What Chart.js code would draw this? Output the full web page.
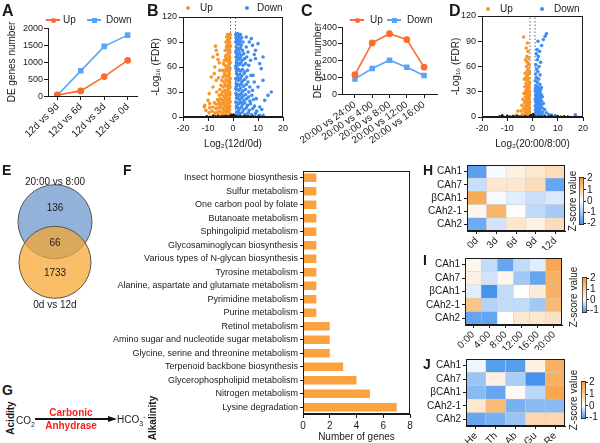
<!DOCTYPE html>
<html>
<head>
<meta charset="utf-8">
<title>DE genes and carbonic anhydrase</title>
<script src="https://cdn.jsdelivr.net/npm/chart.js@4.4.1/dist/chart.umd.min.js"></script>
<style>
  html, body { margin: 0; padding: 0; background: #fff; }
  body { position: relative; width: 600px; height: 443px; overflow: hidden;
         font-family: 'Liberation Sans', Arial, sans-serif; color: #1a1a1a; }
  canvas, .t { position: absolute; }
  .t { white-space: nowrap; }
  .t sub, .t sup { font-size: 70%; line-height: 0; }
  .tick { z-index: 5; }
</style>
</head>
<body>
<script>
// ---------- data ----------
const aLabels = ['12d vs 9d', '12d vs 6d', '12d vs 3d', '12d vs 0d'];
const aUp = [30, 150, 570, 1050];
const aDown = [20, 740, 1460, 1790];
const aTicks = [0, 500, 1000, 1500, 2000];

const cLabels = ['20:00 vs 24:00', '20:00 vs 4:00', '20:00 vs 8:00', '20:00 vs 12:00', '20:00 vs 16:00'];
const cUp = [115, 305, 360, 325, 160];
const cDown = [90, 152, 202, 160, 110];
const cTicks = [0, 100, 200, 300, 400];

// volcano plots: [log2 fold change, -log10 FDR]
const volcanoCut = [-1, 1];
const bUp = [
  [-1.1,99],[-1.4,98],[-1.8,97],[-2.2,99],[-1.2,95],[-1.6,94],[-2.0,92],[-2.5,96],[-1.3,90],[-1.9,88],
  [-2.3,86],[-2.8,90],[-1.1,85],[-1.5,83],[-2.1,81],[-2.6,84],[-3.1,80],[-1.2,78],[-1.7,76],[-2.4,75],
  [-3.0,73],[-1.3,71],[-1.8,69],[-2.2,67],[-2.7,70],[-3.4,68],[-1.1,65],[-1.6,63],[-2.0,61],[-2.5,60],
  [-3.2,62],[-3.8,64],[-1.2,58],[-1.7,56],[-2.3,55],[-2.9,57],[-3.5,54],[-4.2,56],[-1.4,52],[-2.0,50],
  [-2.6,49],[-3.3,51],[-4.0,48],[-1.1,46],[-1.6,44],[-2.2,43],[-2.8,45],[-3.6,42],[-4.5,44],[-1.3,40],
  [-1.9,38],[-2.5,37],[-3.1,39],[-3.9,36],[-4.8,38],[-1.5,34],[-2.1,33],[-2.7,31],[-3.4,32],[-4.3,30],
  [-5.2,33],[-1.2,28],[-1.8,27],[-2.4,26],[-3.0,28],[-3.7,25],[-4.6,27],[-5.5,26],[-1.4,23],[-2.0,22],
  [-2.7,21],[-3.3,23],[-4.1,20],[-5.0,22],[-6.2,21],[-1.1,18],[-1.7,17],[-2.3,16],[-2.9,18],[-3.6,15],
  [-4.4,17],[-5.3,16],[-6.5,15],[-7.4,17],[-1.3,13],[-1.9,12],[-2.5,11],[-3.2,13],[-4.0,10],[-4.9,12],
  [-5.8,11],[-6.8,10],[-8.0,12],[-9.3,11],[-1.5,8],[-2.1,7],[-2.8,6],[-3.5,8],[-4.3,5],[-5.2,7],
  [-6.1,6],[-7.2,5],[-8.4,7],[-9.6,5],[-10.8,8],[-11.5,12],[-1.2,4],[-1.8,3],[-2.6,2],[-3.4,3],
  [-4.7,2],[-6.0,3],[-7.5,2],[-7.0,85],[-6.7,80],[-8.0,72],[-6.0,69],[-7.3,60],[-5.3,56],[-8.7,48],
  [-6.7,44],[-8.0,36],[-10.0,20],[-11.3,14],[-9.3,16],[-6.2,75],[-5.5,65],[-7.5,52],[-9.5,28],[-6.5,30],
  [-5.8,47],[-1.5,99],[-1.9,93],[-1.4,87],[-1.9,79],[-1.5,73],[-1.4,67],[-1.9,59],[-1.5,48],[-1.8,42],
  [-1.2,36],[-1.8,30],[-1.5,20],[-2.0,14],[-1.4,10],[-2.2,9],[-2.9,24],[-3.6,19],[-4.9,14],[-5.7,19]
];
const bDown = [
  [1.1,99],[1.5,98],[1.9,100],[2.4,97],[3.0,99],[1.2,95],[1.7,93],[2.2,94],[2.8,92],[3.5,95],
  [1.1,90],[1.6,88],[2.1,87],[2.7,89],[3.3,86],[4.0,90],[1.3,84],[1.8,82],[2.4,81],[3.0,83],
  [3.8,80],[1.1,78],[1.5,76],[2.0,75],[2.6,77],[3.3,74],[4.3,76],[1.2,72],[1.7,70],[2.3,69],
  [2.9,71],[3.7,68],[4.6,70],[1.4,66],[1.9,64],[2.5,63],[3.1,65],[4.0,62],[5.0,64],[1.1,61],
  [1.6,60],[5.3,96],[7.3,94],[10.0,88],[9.0,80],[5.3,84],[6.5,90],[7.8,86],[6.0,78],[8.5,75],
  [5.5,72],[7.0,68],[10.7,64],[11.3,58],[6.3,62],[9.0,70],[12.0,72],[1.2,58],[1.7,56],[2.3,57],
  [3.0,55],[3.8,57],[4.7,54],[5.8,56],[1.4,52],[2.0,50],[2.7,51],[3.5,49],[4.4,52],[5.5,48],
  [7.2,50],[1.1,46],[1.6,45],[2.2,44],[2.9,46],[3.7,43],[4.7,45],[6.0,42],[8.0,50],[12.0,44],
  [1.3,40],[1.9,39],[2.6,38],[3.3,40],[4.2,37],[5.3,39],[6.7,36],[10.0,36],[1.1,34],[1.6,33],
  [2.3,32],[3.0,34],[3.9,31],[5.0,33],[6.3,30],[7.8,32],[8.5,42],[1.2,28],[1.8,27],[2.5,26],
  [3.2,28],[4.0,25],[5.0,27],[6.2,24],[7.5,26],[15.3,30],[14.0,26],[1.4,23],[2.0,22],[2.7,21],
  [3.5,23],[4.4,20],[5.5,22],[6.8,19],[8.2,21],[9.3,22],[12.7,20],[1.1,18],[1.7,17],[2.3,16],
  [3.0,18],[3.8,15],[4.7,17],[5.8,14],[7.0,16],[8.6,13],[10.7,12],[1.3,12],[1.9,11],[2.6,10],
  [3.4,12],[4.3,9],[5.3,11],[6.5,8],[7.9,10],[9.5,7],[11.5,9],[1.5,6],[2.1,5],[2.9,4],
  [3.8,6],[4.9,3],[6.1,5],[7.4,3],[9.0,4],[10.5,2],[12.0,2],[1.2,2],[2.4,1.5],[5.5,1.5],
  [1.5,91],[1.4,80],[1.9,72],[1.5,55],[1.9,47],[1.4,37],[1.9,25],[1.6,14],[2.2,8],[3.4,17]
];
const bNs = [
  [-10.5,1],[-9.2,0.5],[-8,1.5],[-7,0.8],[-6,1.2],[-5,0.4],[-4.2,1],[-3.5,0.6],[-2.8,1.3],[-2,0.3],
  [-1.5,0.9],[-0.8,1.5],[-0.5,0.4],[0,1],[0.4,0.5],[0.8,1.2],[1.5,0.7],[2.3,0.3],[3,1.1],[3.8,0.5],
  [4.5,1.4],[5.3,0.6],[6.2,0.9],[7,0.3],[8,1],[9,0.5],[10.2,0.8],[-0.3,2],[0.2,3],[-0.6,2.5]
];
const dUp = [
  [-3.5,95],[-2.0,88],[-2.5,82],[-1.8,78],[-2.2,72],[-1.5,70],[-2.8,68],[-1.9,65],[-1.3,62],[-2.4,60],
  [-1.6,57],[-2.1,55],[-1.2,53],[-2.9,52],[-1.8,50],[-2.4,48],[-1.4,46],[-3.2,45],[-2.0,43],[-1.1,41],
  [-2.6,40],[-1.7,38],[-3.0,36],[-1.3,35],[-2.2,34],[-1.9,32],[-2.7,31],[-1.1,30],[-1.5,29],[-3.4,28],
  [-2.3,27],[-1.8,26],[-1.2,25],[-2.8,24],[-2.0,23],[-1.4,22],[-3.8,21],[-2.5,20],[-1.7,19],[-1.1,18],
  [-3.1,17],[-2.2,16],[-1.5,15],[-4.2,14],[-2.8,13],[-1.9,12],[-1.2,11],[-3.5,10],[-2.4,9],[-1.6,8],
  [-5.8,7],[-4.5,7],[-3.0,6],[-2.0,5],[-1.3,4],[-4.0,3],[-2.7,2.5],[-1.8,2],[-1.1,1.5],[-3.5,1.5],
  [-6.5,2],[-1.4,39],[-2.1,37],[-1.6,33],[-2.5,29],[-1.3,27],[-2.1,25],[-1.6,21],[-2.9,19],[-1.3,16],
  [-2.5,14],[-1.7,10],[-2.9,8],[-1.2,7],[-2.3,3.5],[-1.7,62],[-2.3,66],[-1.5,52],[-2.6,45]
];
const dDown = [
  [5.5,99],[5.0,96],[4.3,92],[2.2,90],[3.6,85],[1.8,80],[2.8,78],[1.5,75],[2.3,72],[1.9,68],
  [3.2,65],[1.3,62],[2.6,60],[1.7,57],[2.1,54],[1.2,51],[3.0,50],[1.6,47],[2.4,45],[1.1,43],
  [1.9,41],[2.9,39],[1.4,37],[2.2,36],[3.5,35],[1.2,34],[1.7,33],[2.6,33],[3.2,32],[1.1,31],
  [2.0,30],[2.9,30],[1.5,29],[2.4,28],[3.4,27],[1.2,26],[1.8,25],[2.7,25],[3.9,24],[1.4,23],
  [2.2,22],[3.1,22],[1.1,21],[1.7,20],[2.5,19],[3.6,19],[1.3,18],[2.0,17],[2.9,16],[4.3,16],
  [1.5,15],[2.3,14],[3.3,14],[1.1,13],[1.8,12],[2.6,11],[3.8,11],[1.4,10],[2.1,9],[3.0,9],
  [4.8,9],[1.2,8],[1.9,7],[2.8,6],[4.0,6],[5.5,5],[1.5,5],[2.4,4],[3.5,4],[6.5,3],
  [1.1,3],[2.0,2.5],[3.0,2],[4.5,2],[7.5,2],[9.0,1.5],[17.0,2.5]
];
const dNs = [
  [-13,1],[-11.5,0.5],[-10,1.5],[-9,0.7],[-7.8,1.2],[-7,0.4],[-6,1.5],[-5,0.8],[-4.2,0.3],[-3,0.9],
  [-2,0.5],[-1,1.2],[0,0.6],[0.5,1.5],[1.3,0.3],[2.5,0.8],[3.7,0.4],[5,1],[6.3,0.6],[7.5,1.3],
  [8.8,0.5],[10,1.1],[11.3,0.4],[12.5,1],[14,0.6],[-0.5,2.5],[0.3,3.5],[-12,2]
];

const vennNames = ['20:00 vs 8:00', '0d vs 12d'];
const vennOnly = [136, 1733];
const vennShared = 66;

const fPathways = [
  'Insect hormone biosynthesis', 'Sulfur metabolism', 'One carbon pool by folate',
  'Butanoate metabolism', 'Sphingolipid metabolism', 'Glycosaminoglycan biosynthesis',
  'Various types of N-glycan biosynthesis', 'Tyrosine metabolism',
  'Alanine, aspartate and glutamate metabolism', 'Pyrimidine metabolism', 'Purine metabolism',
  'Retinol metabolism', 'Amino sugar and nucleotide sugar metabolism',
  'Glycine, serine and threonine metabolism', 'Terpenoid backbone biosynthesis',
  'Glycerophospholipid metabolism', 'Nitrogen metabolism', 'Lysine degradation'
];
const fGenes = [1, 1, 1, 1, 1, 1, 1, 1, 1, 1, 1, 2, 2, 2, 3, 4, 5, 7];

const caRows = ['CAh1', 'CAh7', 'βCAh1', 'CAh2-1', 'CAh2'];
const hCols = ['0d', '3d', '6d', '9d', '12d'];
const hZ = [
  [-1.8, -0.1, 0.3, 0.5, 0.7],
  [-0.6, 0.5, 0.5, 0.7, -1.7],
  [1.7, -0.1, -0.35, -0.6, -0.4],
  [0.2, 1.5, 0.05, -0.7, -1.0],
  [-1.6, -0.5, 0.5, 0.3, 0.7]
];
const iCols = ['0:00', '4:00', '8:00', '12:00', '16:00', '20:00'];
const iZ = [
  [0.2, -0.4, -1.0, -0.4, -0.2, 1.8],
  [0.3, -0.3, 0.2, -0.6, -1.0, 1.6],
  [-0.2, -1.2, -0.4, 0.0, 0.4, 1.6],
  [1.2, -0.5, -0.4, -0.4, -0.6, 1.4],
  [-1.0, -1.0, 0.0, 0.5, 0.5, 0.6]
];
const jCols = ['He', 'Th', 'Ab', 'Gu', 'Re'];
const jZ = [
  [-0.1, -1.0, -1.0, 0.3, 1.6],
  [-0.6, 0.3, -0.5, -1.1, 1.6],
  [-0.7, -0.9, 0.1, -0.4, 1.8],
  [0.5, 1.4, -0.8, -0.7, -0.7],
  [-0.9, -0.8, -0.6, 0.8, 0.8]
];

// ---------- styles ----------
const INK = '#1a1a1a';
const LINE_UP = '#ff6a2a', LINE_DN = '#5aa5f5';
const DOT_UP = '#f8962a', DOT_DN = '#3f8ef0';
const BAR = '#f9a23f';
const Z_ORANGE = [245, 150, 45], Z_BLUE = [62, 142, 235];

Chart.defaults.font.family = "'Liberation Sans', Arial, sans-serif";
Chart.defaults.font.size = 10;
Chart.defaults.color = INK;
Chart.defaults.animation = false;
Chart.defaults.responsive = false;
Chart.defaults.plugins.legend.display = false;
Chart.defaults.plugins.tooltip.enabled = false;

// box around the plot area (top / right edges)
const frame = {
  id: 'frame',
  afterDatasetsDraw(chart) {
    const { ctx, chartArea: a } = chart;
    ctx.save();
    ctx.strokeStyle = INK;
    ctx.lineWidth = 1;
    ctx.strokeRect(Math.round(a.left) + 0.5, Math.round(a.top) + 0.5,
                   Math.round(a.width) - 1, Math.round(a.height) - 1);
    ctx.restore();
  }
};

function mk(left, top, w, h) {
  const c = document.createElement('canvas');
  c.width = w; c.height = h;
  c.style.left = left + 'px'; c.style.top = top + 'px';
  c.style.width = w + 'px'; c.style.height = h + 'px';
  document.body.appendChild(c);
  return c;
}

// text centred vertically on y
function label(html, x, y, o = {}) {
  const d = document.createElement('div');
  d.className = 't' + (o.cls ? ' ' + o.cls : '');
  d.innerHTML = html;
  const size = o.size || 10;
  d.style.fontSize = size + 'px';
  d.style.lineHeight = size + 'px';
  if (o.bold) d.style.fontWeight = 'bold';
  if (o.color) d.style.color = o.color;
  d.style.left = x + 'px';
  if (o.rot) {
    d.style.top = y + 'px';
    d.style.transform = 'translate(-50%,-50%) rotate(-90deg)';
  } else {
    d.style.top = (y - size / 2) + 'px';
    if (o.align === 'center') d.style.transform = 'translateX(-50%)';
    if (o.align === 'right') d.style.transform = 'translateX(-100%)';
  }
  document.body.appendChild(d);
  return d;
}

function box(x, y, w, h, css) {
  const d = document.createElement('div');
  d.className = 't';
  Object.assign(d.style, { left: x + 'px', top: y + 'px', width: w + 'px', height: h + 'px' }, css);
  document.body.appendChild(d);
}

function lineKey(x, y, color, round) {
  box(x, y - 0.75, 14, 1.5, { background: color });
  box(x + 4.5, y - 2.5, 5, 5, { background: color, borderRadius: round ? '50%' : '0' });
}
function dotKey(x, y, color) {
  box(x - 2, y - 2, 4, 4, { background: color, borderRadius: '50%' });
}

function axis(o) {
  const a = Object.assign({}, o);
  a.border = Object.assign({ color: INK, width: 1 }, o.border);
  a.grid = Object.assign({ drawOnChartArea: false, tickLength: 4, color: INK }, o.grid);
  a.ticks = Object.assign({ color: INK, font: { size: 9 }, padding: 2, autoSkip: false }, o.ticks);
  if (o.title) a.title = Object.assign({ display: true, color: INK, font: { size: 10 } }, o.title);
  return a;
}

// ---------- B & D: volcano plots ----------
function volcano(el, up, down, ns, o) {
  const pts = a => a.map(([x, y]) => ({ x, y }));
  const cuts = volcanoCut.map(c => ({
    data: [{ x: c, y: 0 }, { x: c, y: 120 }], showLine: true, borderColor: '#666',
    borderWidth: 1, borderDash: [1.5, 2], pointRadius: 0
  }));
  return new Chart(el, {
    type: 'scatter',
    data: {
      datasets: [
        { data: pts(ns), backgroundColor: '#111', pointRadius: 1.2, borderWidth: 0 },
        { data: pts(up), backgroundColor: DOT_UP, pointRadius: 1.8, borderWidth: 0 },
        { data: pts(down), backgroundColor: DOT_DN, pointRadius: 1.8, borderWidth: 0 },
        ...cuts
      ]
    },
    options: {
      layout: { padding: { top: o.top, right: o.right, left: 0, bottom: 0 } },
      scales: {
        x: axis({ min: -20, max: 20, ticks: { stepSize: 10, callback: v => String(v) },
                  afterFit: s => { s.height = o.xh; },
                  title: { text: o.xTitle, padding: { top: 0, bottom: 0 } } }),
        y: axis({ min: 0, max: 120, ticks: { stepSize: 30, callback: v => String(v) },
                  afterFit: s => { s.width = o.yw; },
                  title: { text: '-Log₁₀ (FDR)', padding: { top: 0, bottom: 0 } } })
      }
    },
    plugins: [frame]
  });
}

volcano(mk(150, 0, 150, 150), bUp, bDown, bNs,
  { top: 17, right: 17, xh: 33, yw: 33, xTitle: 'Log₂(12d/0d)' });
volcano(mk(450, 0, 150, 150), dUp, dDown, dNs,
  { top: 16, right: 17, xh: 33, yw: 32, xTitle: 'Log₂(20:00/8:00)' });

// ---------- E: Venn ----------
new Chart(mk(0, 177, 110, 130), {
  type: 'bubble',
  data: {
    datasets: [
      { data: [{ x: 0, y: -1, r: 36 }], backgroundColor: 'rgba(247,165,45,0.72)', borderColor: '#555',
        borderWidth: 1, clip: false },
      { data: [{ x: 0, y: 1, r: 37 }], backgroundColor: 'rgb(146,178,218)', borderColor: '#555',
        borderWidth: 1, clip: false }
    ]
  },
  options: {
    layout: { padding: 0, autoPadding: false },
    scales: {
      x: { display: false, min: -2.7, max: 2.7 },
      y: { display: false, min: -3.2, max: 3.2 }
    }
  }
});

// ---------- F: pathways ----------
new Chart(mk(100, 160, 320, 283), {
  type: 'bar',
  data: { labels: fPathways, datasets: [{ data: fGenes, backgroundColor: BAR, barPercentage: 0.63, categoryPercentage: 1 }] },
  options: {
    indexAxis: 'y',
    layout: { padding: { top: 11, right: 10, left: 0, bottom: 0 } },
    scales: {
      x: axis({ min: 0, max: 8, ticks: { stepSize: 2, font: { size: 10 }, callback: v => String(v) },
                afterFit: s => { s.height = 29; },
                title: { text: 'Number of genes', padding: { top: 0, bottom: 0 } } }),
      y: axis({ ticks: { font: { size: 9 } }, grid: { offset: false, tickLength: 3 },
                afterFit: s => { s.width = 203; } })
    }
  },
  plugins: [frame]
});

// ---------- H, I, J: heatmaps ----------
function zColor(v, range) {
  const [lo, hi] = range;
  const t = v >= 0 ? Math.min(v / hi, 1) : Math.min(v / lo, 1);
  const c = v >= 0 ? Z_ORANGE : Z_BLUE;
  const m = k => Math.round(255 + (c[k] - 255) * t);
  return `rgb(${m(0)},${m(1)},${m(2)})`;
}

function heatmap(el, rows, cols, z, range, o) {
  const n = rows.length;
  const datasets = [];
  for (let r = n - 1; r >= 0; r--) {
    datasets.push({
      data: cols.map(() => 1),
      backgroundColor: z[r].map(v => zColor(v, range)),
      borderColor: 'rgba(205,205,205,0.9)', borderWidth: 0.5, borderSkipped: false,
      barPercentage: 1, categoryPercentage: 1
    });
  }
  new Chart(el, {
    type: 'bar',
    data: { labels: cols, datasets },
    options: {
      layout: { padding: { top: o.top, right: o.right, left: 0, bottom: 0 } },
      scales: {
        x: axis({ stacked: true, grid: { offset: false, tickLength: 3 },
                  ticks: { minRotation: 45, maxRotation: 45, font: { size: 10 }, padding: 1 },
                  afterFit: s => { s.height = o.xh; } }),
        y: axis({ stacked: true, min: 0, max: n, grid: { tickLength: 3 },
                  afterBuildTicks: s => { s.ticks = rows.map((_, i) => ({ value: i + 0.5 })); },
                  ticks: { callback: v => rows[n - 1 - Math.round(v - 0.5)], font: { size: 10 } },
                  afterFit: s => { s.width = o.yw; } })
      }
    },
    plugins: [frame]
  });
}

function colorbar(el, range, ticks, o) {
  const [lo, hi] = range;
  new Chart(el, {
    type: 'bar',
    data: {
      labels: [''],
      datasets: [{
        data: [[lo, hi]],
        backgroundColor: c => {
          const ch = c.chart;
          if (!ch.chartArea) return '#fff';
          const y = ch.scales.y;
          const g = ch.ctx.createLinearGradient(0, y.getPixelForValue(lo), 0, y.getPixelForValue(hi));
          g.addColorStop(0, `rgb(${Z_BLUE})`);
          g.addColorStop(-lo / (hi - lo), '#fff');
          g.addColorStop(1, `rgb(${Z_ORANGE})`);
          return g;
        },
        borderColor: INK, borderWidth: 1, borderSkipped: false,
        barPercentage: 1, categoryPercentage: 1
      }]
    },
    options: {
      layout: { padding: { left: o.left, top: o.top, bottom: o.bottom, right: 0 } },
      scales: {
        x: { display: false },
        y: axis({ position: 'right', min: lo, max: hi, border: { display: false },
                  grid: { tickLength: 2 },
                  afterBuildTicks: s => { s.ticks = ticks.map(v => ({ value: v })); },
                  ticks: { font: { size: 10 }, padding: 1, callback: v => String(v) },
                  afterFit: s => { s.width = o.yw; } })
      }
    }
  });
}

const hRange = [-2.15, 2.15], iRange = [-1.25, 2.15], jRange = [-1.15, 2.15];
heatmap(mk(400, 155, 175, 95), caRows, hCols, hZ, hRange, { top: 10, right: 10, xh: 19, yw: 67 });
heatmap(mk(400, 248, 175, 102), caRows, iCols, iZ, iRange, { top: 10, right: 13, xh: 25, yw: 65 });
heatmap(mk(400, 349, 175, 94), caRows, jCols, jZ, jRange, { top: 10, right: 10, xh: 17, yw: 66 });
colorbar(mk(572, 170, 28, 62), hRange, [-2, -1, 0, 1, 2], { left: 7, top: 7, bottom: 6, yw: 16 });
colorbar(mk(575, 270, 25, 50), iRange, [-1, 0, 1, 2], { left: 7, top: 7, bottom: 7, yw: 13 });
colorbar(mk(574, 374, 26, 52), jRange, [-1, 0, 1, 2], { left: 7, top: 7, bottom: 7, yw: 14 });

// ---------- A & C: DE gene counts ----------
function trendChart(left, top, w, h, labels, up, down, yTicks, o) {
  const chart = new Chart(mk(left, top, w, h), {
    type: 'scatter',
    data: {
      datasets: [
        { data: up.map((v, i) => ({ x: i, y: v })), showLine: true, borderColor: LINE_UP,
          backgroundColor: LINE_UP, pointStyle: 'circle', pointRadius: 2.6, borderWidth: 1.6 },
        { data: down.map((v, i) => ({ x: i, y: v })), showLine: true, borderColor: LINE_DN,
          backgroundColor: LINE_DN, pointStyle: 'rect', pointRadius: 2.8, borderWidth: 1.6 }
      ]
    },
    options: {
      layout: { padding: { top: o.top, right: o.right, left: 0, bottom: 0 } },
      scales: {
        x: axis({
          min: o.xmin, max: o.xmax,
          afterBuildTicks: s => { s.ticks = labels.map((_, i) => ({ value: i })); },
          afterFit: s => { s.height = o.xh; },
          ticks: { callback: v => labels[v], minRotation: o.rot, maxRotation: o.rot,
                   font: { size: 10 }, padding: 1 }
        }),
        y: axis({
          min: 0, max: yTicks[yTicks.length - 1],
          afterBuildTicks: s => { s.ticks = yTicks.map(v => ({ value: v })); },
          ticks: { display: false },
          afterFit: s => { s.width = o.yw; },
          title: { text: o.title, padding: { top: o.titlePad, bottom: 0 } }
        })
      }
    }
  });
  return chart;
}

// y tick labels of A and C, placed from each chart's own plot area and y scale
function yTickText(chart, left, top, yTicks) {
  const ca = chart.chartArea || {};
  const ys = chart.scales.y;
  const lo = yTicks[0], hi = yTicks[yTicks.length - 1];
  const axisX = Number.isFinite(ca.left) ? ca.left : 0;
  yTicks.forEach(v => {
    let py = ys ? ys.getPixelForValue(v) : NaN;
    if (!Number.isFinite(py)) py = ca.bottom - (v - lo) / (hi - lo) * (ca.bottom - ca.top);
    label(String(v), left + axisX - 5, top + py, { size: 9, align: 'right', cls: 'tick' });
  });
}

const chartA = trendChart(0, 0, 150, 150, aLabels, aUp, aDown, aTicks,
  { top: 28, right: 13, xmin: -0.4, xmax: 3.4, xh: 54, rot: 45, yw: 48,
    title: 'DE genes number', titlePad: 6 });
const chartC = trendChart(290, 0, 160, 150, cLabels, cUp, cDown, cTicks,
  { top: 27, right: 13, xmin: -0.75, xmax: 4.75, xh: 56, rot: 35, yw: 52,
    title: 'DE gene number', titlePad: 22 });

// ---------- text ----------
[['A', 2, 11], ['B', 147, 11], ['C', 301, 11], ['D', 449, 11]]
  .forEach(([t, x, y]) => label(t, x, y, { size: 16, bold: true }));
[['E', 2, 170], ['F', 123, 170], ['G', 2, 390], ['H', 423, 170], ['I', 423, 260], ['J', 423, 364]]
  .forEach(([t, x, y]) => label(t, x, y, { size: 14, bold: true }));

lineKey(46, 20, LINE_UP, true);  label('Up', 63, 20);
lineKey(87, 20, LINE_DN, false); label('Down', 106, 20);
lineKey(350, 20, LINE_UP, true);  label('Up', 370, 20);
lineKey(387, 20, LINE_DN, false); label('Down', 407, 20);
dotKey(188, 8, DOT_UP); label('Up', 200, 8);
dotKey(247, 8, DOT_DN); label('Down', 257, 8);
dotKey(488, 9, DOT_UP); label('Up', 500, 9);
dotKey(542, 9, DOT_DN); label('Down', 554, 9);

label(vennNames[0], 55, 182, { align: 'center' });
label(String(vennOnly[0]), 55, 208, { align: 'center' });
label(String(vennShared), 55, 243, { align: 'center' });
label(String(vennOnly[1]), 55, 273, { align: 'center' });
label(vennNames[1], 55, 305, { align: 'center' });

label('Acidity', 11, 418, { bold: true, rot: true });
label('Alkalinity', 153, 418, { bold: true, rot: true });
label('CO<sub>2</sub>', 16, 421);
box(35, 418.3, 74, 1.5, { background: '#111' });
box(108, 415.5, 0, 0, { borderTop: '3.5px solid transparent', borderBottom: '3.5px solid transparent', borderLeft: '9px solid #111' });
label('Carbonic', 71, 413, { bold: true, color: '#ff1a1a', align: 'center' });
label('Anhydrase', 71, 426, { bold: true, color: '#ff1a1a', align: 'center' });
label('HCO<sub>3</sub><sup>-</sup>', 117, 420);

label('Z-score value', 573, 201, { rot: true });
label('Z-score value', 574, 297, { rot: true });
label('Z-score value', 574, 400, { rot: true });

// last, so nothing is stacked above them
yTickText(chartA, 0, 0, aTicks);
yTickText(chartC, 290, 0, cTicks);
</script>
</body>
</html>
